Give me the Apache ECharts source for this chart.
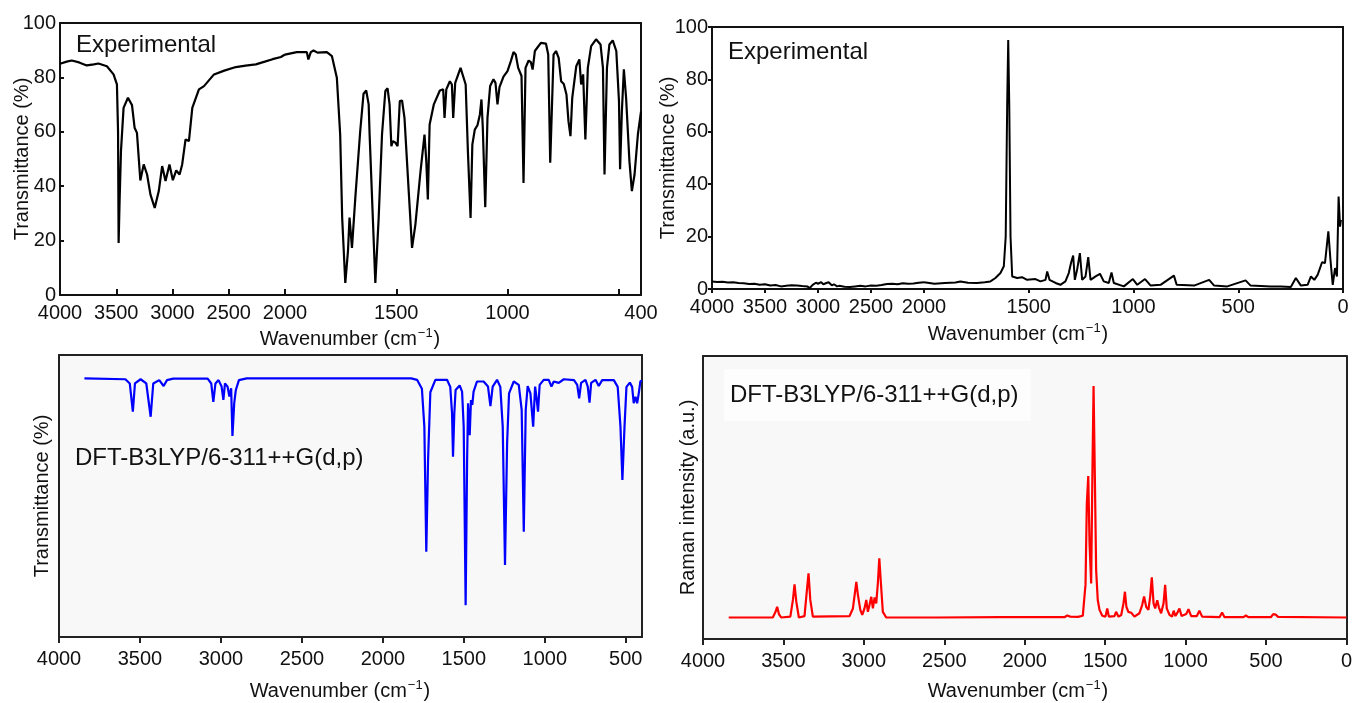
<!DOCTYPE html>
<html>
<head>
<meta charset="utf-8">
<title>IR and Raman spectra</title>
<script src="https://cdn.jsdelivr.net/npm/echarts@6/dist/echarts.min.js"></script>
<style>
  html, body { margin: 0; padding: 0; background: #fff; }
  #chart { width: 1355px; height: 703px; }
</style>
</head>
<body>
<div id="chart"></div>
<script>
// experimental FT-IR, [wavenumber, transmittance %]
const irExp = [
  [4000, 85.0], [3985, 85.4], [3940, 85.8], [3896, 86.2], [3830, 85.5], [3762, 84.4], [3700, 84.8],
  [3658, 85.1], [3583, 84.1], [3524, 81.1], [3494, 77.4], [3484, 60], [3479, 19.1], [3470, 35],
  [3458, 52.9], [3435, 68.8], [3396, 72.5], [3360, 69.8], [3337, 61.5], [3316, 59.6], [3286, 42.1],
  [3256, 48.0], [3226, 44.3], [3196, 36.9], [3158, 32.0], [3122, 38.2], [3092, 47.4], [3062, 41.9],
  [3027, 48.0], [2997, 42.2], [2967, 45.8], [2937, 44.3], [2914, 48.0], [2899, 48.0], [2884, 57.2],
  [2854, 56.6], [2824, 68.8], [2765, 75.6], [2720, 76.8], [2631, 81.1], [2540, 82.5], [2437, 83.8],
  [2350, 84.3], [2259, 84.8], [2180, 85.8], [2110, 86.7], [2036, 87.5], [2000, 88.4],
  [1947, 89.3], [1902, 89.3], [1895, 86.6], [1884, 89.3], [1872, 89.9], [1854, 89.1], [1812, 89.3],
  [1789, 87.8], [1767, 79.9], [1752, 59.0], [1743, 28.3], [1729, 4.4], [1717, 16.1], [1710, 28.5],
  [1699, 17.3], [1684, 35.7], [1662, 60.2], [1647, 74.0], [1635, 75.2], [1624, 70.1], [1620, 59.6],
  [1613, 59.0], [1594, 4.4], [1579, 28.3], [1564, 59.0], [1549, 75.0], [1539, 76.0], [1530, 70.1],
  [1522, 54.7], [1515, 56.6], [1504, 56.0], [1494, 54.7], [1484, 71.3], [1474, 71.5], [1463, 65.1],
  [1444, 38.2], [1429, 17.3], [1414, 25.9], [1391, 45.4], [1373, 59.0], [1365, 49.2], [1358, 35.1],
  [1350, 62.7], [1331, 70.1], [1304, 75.2], [1289, 75.6], [1283, 65.1], [1275, 75.6], [1259, 78.6],
  [1250, 77.4], [1244, 65.1], [1235, 78.0], [1211, 83.5], [1188, 77.4], [1178, 52.9], [1166, 28.3],
  [1158, 55.3], [1147, 60.8], [1135, 62.4], [1124, 66.4], [1117, 71.9], [1111, 61.5], [1100, 32.3],
  [1090, 65.1], [1078, 76.8], [1063, 79.3], [1054, 78.0], [1045, 70.1], [1036, 76.4], [1018, 80.3],
  [1000, 82.3], [985, 86.0], [973, 89.3], [963, 88.4], [952, 83.5], [945, 84.1], [937, 80.5],
  [928, 41.2], [919, 83.5], [905, 86.2], [895, 85.6], [887, 82.9], [877, 89.7], [850, 92.7],
  [827, 92.4], [817, 88.4], [808, 48.6], [800, 48.6], [793, 88.4], [782, 89.7], [770, 87.2],
  [759, 78.6], [747, 77.6], [735, 73.7], [726, 63.9], [717, 58.4], [709, 72.5], [691, 84.1],
  [677, 86.6], [669, 77.4], [660, 81.1], [650, 57.2], [639, 83.5], [624, 91.5], [602, 94.0],
  [582, 92.1], [571, 83.5], [564, 44.3], [553, 83.5], [542, 92.1], [527, 93.6], [511, 89.7],
  [499, 71.3], [494, 46.2], [486, 67.4], [477, 83.0], [467, 72.5], [452, 49.2], [441, 38.2],
  [429, 44.3], [414, 59.0], [400, 67.4]
];

// experimental FT-Raman, [wavenumber, intensity]
const ramanExp = [
  [4000, 2.9], [3950, 2.7], [3900, 2.8], [3850, 2.5], [3800, 2.6], [3750, 2.3], [3700, 2.2],
  [3650, 1.9], [3600, 2.0], [3550, 1.6], [3500, 1.8], [3450, 1.3], [3400, 1.5], [3350, 1.0],
  [3300, 1.2], [3250, 1.4], [3200, 1.3], [3150, 1.1], [3100, 1.0], [3080, 0.3], [3050, 1.6],
  [3020, 2.4], [3000, 2.0], [2970, 2.6], [2950, 1.8], [2920, 2.3], [2900, 2.6], [2870, 1.4],
  [2850, 1.8], [2820, 1.0], [2800, 1.2], [2750, 0.9], [2700, 0.8], [2650, 1.0], [2600, 1.2],
  [2550, 1.0], [2500, 1.3], [2450, 1.2], [2400, 1.5], [2350, 1.9], [2300, 2.0], [2250, 1.8],
  [2200, 2.2], [2150, 2.0], [2100, 2.1], [2050, 2.4], [2000, 2.6],
  [1950, 2.0], [1900, 2.3], [1850, 2.5], [1826, 2.9], [1790, 2.4], [1747, 2.3], [1710, 2.6],
  [1683, 2.9], [1659, 4.2], [1635, 6.1], [1619, 8.7], [1610, 20], [1603, 70], [1598, 95],
  [1593, 70], [1587, 20], [1579, 4.8], [1555, 4.2], [1532, 4.5], [1508, 3.5], [1468, 3.8],
  [1444, 2.9], [1420, 3.5], [1412, 6.7], [1401, 3.5], [1372, 2.3], [1349, 1.6], [1325, 2.9],
  [1309, 6.1], [1298, 10], [1288, 12.8], [1280, 3.5], [1269, 7.4], [1256, 13.7], [1245, 3.5],
  [1229, 4.8], [1216, 12.2], [1205, 3.5], [1181, 4.8], [1160, 5.8], [1142, 2.9], [1118, 2.3],
  [1105, 6.3], [1094, 2.3], [1046, 1.0], [1003, 3.8], [982, 1.6], [945, 3.8], [918, 1.3],
  [871, 1.6], [807, 5.1], [794, 1.6], [711, 1.3], [639, 3.5], [615, 1.3], [552, 1.0],
  [465, 3.3], [441, 1.3], [345, 1.0], [297, 1.0], [249, 0.8], [225, 4.2], [201, 1.3],
  [169, 1.6], [153, 4.8], [137, 3.5], [121, 5.4], [100, 10.2], [86, 9.9], [70, 22.0],
  [60, 11.2], [49, 1.6], [38, 8.0], [29, 4.8], [21, 35.3], [14, 23.8], [10, 26.4]
];

// calculated IR (DFT-B3LYP/6-311++G(d,p)), arbitrary transmittance units
const irCalc = [
  [3843, 91.7], [3590, 91.4], [3563, 89.9], [3544, 79.9], [3531, 89.9], [3496, 91.4], [3461, 89.9],
  [3434, 78.1], [3418, 89.9], [3381, 91.1], [3354, 89.0], [3333, 91.1], [3295, 91.6], [3082, 91.6],
  [3060, 89.9], [3047, 83.4], [3034, 89.9], [3015, 91.1], [2996, 88.8], [2985, 84.1], [2975, 89.9],
  [2959, 88.8], [2948, 85.3], [2937, 88.2], [2929, 71.3], [2918, 82.9], [2908, 87.6], [2889, 91.1],
  [2841, 91.7], [1825, 91.7], [1789, 91.2], [1759, 88.0], [1744, 74.6], [1732, 30.2], [1721, 62.8],
  [1707, 86.8], [1676, 91.2], [1604, 91.2], [1584, 88.7], [1573, 79.3], [1567, 63.9], [1559, 79.3],
  [1551, 87.6], [1526, 89.2], [1511, 87.0], [1501, 74.6], [1489, 11.3], [1480, 62.8], [1474, 82.9],
  [1464, 71.6], [1456, 84.0], [1448, 82.3], [1440, 87.0], [1419, 90.6], [1378, 90.6], [1351, 88.8],
  [1336, 81.9], [1322, 88.8], [1295, 91.2], [1275, 88.7], [1260, 74.6], [1246, 25.5], [1233, 68.6],
  [1221, 86.4], [1192, 90.6], [1161, 89.4], [1143, 80.5], [1130, 37.3], [1118, 80.5], [1106, 89.0],
  [1089, 86.4], [1072, 74.6], [1060, 88.8], [1052, 85.2], [1042, 79.9], [1032, 89.4], [1007, 91.2],
  [976, 91.2], [959, 88.8], [945, 90.6], [914, 90.1], [883, 91.4], [820, 91.1], [800, 89.4],
  [788, 84.6], [776, 90.1], [749, 91.2], [735, 88.8], [724, 83.1], [714, 90.1], [687, 91.2],
  [667, 89.0], [646, 91.1], [574, 91.1], [550, 88.7], [533, 74.6], [521, 55.7], [508, 74.6],
  [496, 88.7], [475, 90.2], [461, 88.7], [451, 82.9], [440, 85.2], [430, 82.9], [420, 86.4],
  [410, 90.6], [400, 91.0]
];

// calculated Raman (DFT-B3LYP/6-311++G(d,p)), arbitrary units
const ramanCalc = [
  [3840, 7.6], [3566, 7.6], [3549, 9.6], [3539, 11.4], [3528, 8.8], [3514, 7.6], [3457, 7.9],
  [3441, 13.8], [3431, 19.3], [3420, 13.2], [3404, 7.6], [3369, 8.1], [3354, 17.3], [3344, 23.2],
  [3333, 13.8], [3317, 7.9], [3089, 8.1], [3068, 10.8], [3056, 16.1], [3047, 20.2], [3037, 15.6],
  [3022, 10.3], [3010, 8.5], [2996, 10.8], [2985, 13.8], [2975, 9.6], [2965, 12.0], [2954, 14.9],
  [2944, 10.8], [2933, 14.7], [2923, 12.6], [2913, 19.7], [2904, 28.5], [2894, 19.7], [2882, 9.6],
  [2861, 7.6], [2550, 7.6], [2157, 7.7], [1753, 7.7], [1736, 8.3], [1728, 8.5], [1717, 7.9],
  [1670, 7.8], [1639, 8.2], [1622, 19.3], [1614, 47.8], [1605, 57.6], [1597, 33.8], [1587, 19.6],
  [1579, 59.7], [1572, 89.4], [1564, 57.3], [1556, 24.3], [1546, 13.8], [1535, 10.3], [1518, 8.2],
  [1498, 7.9], [1487, 10.8], [1477, 7.9], [1442, 8.1], [1432, 9.6], [1417, 7.9], [1400, 8.5],
  [1386, 12.6], [1377, 16.7], [1368, 11.4], [1356, 9.6], [1338, 9.3], [1318, 7.9], [1287, 9.1],
  [1270, 12.0], [1258, 15.0], [1245, 11.4], [1231, 10.3], [1220, 15.0], [1210, 21.8], [1199, 12.6],
  [1189, 10.8], [1176, 13.7], [1166, 11.2], [1152, 9.1], [1137, 12.6], [1127, 19.1], [1117, 10.8],
  [1100, 8.5], [1084, 7.9], [1074, 10.0], [1063, 8.1], [1048, 9.6], [1038, 10.8], [1025, 8.1],
  [996, 8.8], [982, 10.5], [965, 8.1], [930, 8.1], [914, 10.0], [897, 7.9], [789, 7.7],
  [773, 9.4], [758, 7.7], [640, 7.7], [625, 8.3], [610, 7.7], [470, 7.7], [455, 8.8],
  [440, 8.6], [425, 7.8], [0, 7.6]
];

// tick labels
const irExpHighTicks = [4000, 3500, 3000, 2500, 2000];
const irExpLowTicks = [1500, 1000, 500];
const irExpLowLabels = [1500, 1000, 400];
const irCalcTicks = [4000, 3500, 3000, 2500, 2000, 1500, 1000, 500];

const FONT = '"Liberation Sans", Arial, sans-serif';
const INK = '#111';

const inRange = (data, lo, hi) => data.filter(p => p[0] >= lo && p[0] <= hi);

const frameLine = (color) => ({ show: true, onZero: false, lineStyle: { color: color || INK, width: 2 } });

const edgeX = (grid, min, max, color) => ({
  type: 'value', gridIndex: grid, position: 'top', min, max, inverse: true,
  axisLine: frameLine(color), axisTick: { show: false }, axisLabel: { show: false }, splitLine: { show: false },
});

const edgeY = (grid, min, max, color) => ({
  type: 'value', gridIndex: grid, position: 'right', min, max,
  axisLine: frameLine(color), axisTick: { show: false }, axisLabel: { show: false }, splitLine: { show: false },
});

const tickLabel = { color: INK, fontSize: 20, fontFamily: FONT, formatter: v => String(v) };

const yName = (text, gap) => ({
  name: text, nameLocation: 'middle', nameRotate: 90, nameGap: gap, nameMoveOverlap: false,
  nameTextStyle: { color: INK, fontSize: 20, fontFamily: FONT },
});

const wnRich = {
  a: { fontSize: 20, fontFamily: FONT, fill: INK, verticalAlign: 'bottom' },
  s: { fontSize: 13, fontFamily: FONT, fill: INK, verticalAlign: 'bottom', padding: [0, 1, 9, 1] },
};
const wnText = '{a|Wavenumber (cm}{s|−1}{a|)}';

const chart = echarts.init(document.getElementById('chart'));

chart.setOption({
  animation: false,
  backgroundColor: '#fff',
  grid: [
    { left: 60, top: 23, width: 225, height: 272 },
    { left: 285, top: 23, width: 356, height: 272 },
    { left: 712, top: 27, width: 212, height: 262 },
    { left: 924, top: 27, width: 419, height: 262 },
    { left: 59, top: 355, width: 583, height: 282, show: true, backgroundColor: '#f8f8f8', borderWidth: 0 },
    { left: 703, top: 356, width: 644, height: 283, show: true, backgroundColor: '#f8f8f8', borderWidth: 0 },
  ],
  xAxis: [
    { type: 'value', gridIndex: 0, min: 2000, max: 4000, inverse: true,
      axisLine: frameLine(), splitLine: { show: false },
      axisTick: { inside: true, length: 6, customValues: irExpHighTicks, lineStyle: { color: INK, width: 2 } },
      axisLabel: { ...tickLabel, margin: 8, customValues: irExpHighTicks } },
    edgeX(0, 2000, 4000),
    { type: 'value', gridIndex: 1, min: 400, max: 2000, inverse: true,
      axisLine: frameLine(), splitLine: { show: false },
      axisTick: { inside: true, length: 6, customValues: irExpLowTicks, lineStyle: { color: INK, width: 2 } },
      axisLabel: { ...tickLabel, margin: 8, customValues: irExpLowLabels } },
    edgeX(1, 400, 2000),

    { type: 'value', gridIndex: 2, min: 2000, max: 4000, inverse: true, interval: 500,
      axisLine: frameLine(), splitLine: { show: false },
      axisTick: { length: 4, lineStyle: { color: INK, width: 2 } },
      axisLabel: { ...tickLabel, margin: 8 } },
    edgeX(2, 2000, 4000),
    { type: 'value', gridIndex: 3, min: 0, max: 2000, inverse: true, interval: 500,
      axisLine: frameLine(), splitLine: { show: false },
      axisTick: { length: 4, lineStyle: { color: INK, width: 2 } },
      axisLabel: { ...tickLabel, margin: 8, showMaxLabel: false } },
    edgeX(3, 0, 2000),

    { type: 'value', gridIndex: 4, min: 400, max: 4000, inverse: true,
      axisLine: frameLine('#222'), splitLine: { show: false },
      axisTick: { length: 6, customValues: irCalcTicks, lineStyle: { color: '#222', width: 2 } },
      axisLabel: { ...tickLabel, margin: 12, customValues: irCalcTicks } },
    edgeX(4, 400, 4000, '#222'),

    { type: 'value', gridIndex: 5, min: 0, max: 4000, inverse: true, interval: 500,
      axisLine: frameLine('#222'), splitLine: { show: false },
      axisTick: { length: 6, lineStyle: { color: '#222', width: 2 } },
      axisLabel: { ...tickLabel, margin: 12 } },
    edgeX(5, 0, 4000, '#222'),
  ],
  yAxis: [
    { type: 'value', gridIndex: 0, min: 0, max: 100, interval: 20, ...yName('Transmittance (%)', 28),
      axisLine: frameLine(), splitLine: { show: false },
      axisTick: { inside: true, length: 4, lineStyle: { color: INK, width: 2 } },
      axisLabel: { ...tickLabel, margin: 4 } },
    edgeY(1, 0, 100),

    { type: 'value', gridIndex: 2, min: 0, max: 100, interval: 20, ...yName('Transmittance (%)', 34),
      axisLine: frameLine(), splitLine: { show: false },
      axisTick: { length: 4, lineStyle: { color: INK, width: 2 } },
      axisLabel: { ...tickLabel, margin: 4 } },
    edgeY(3, 0, 100),

    { type: 'value', gridIndex: 4, min: 0, max: 100, ...yName('Transmittance (%)', 7),
      axisLine: frameLine('#222'), splitLine: { show: false },
      axisTick: { show: false }, axisLabel: { show: false } },
    edgeY(4, 0, 100, '#222'),

    { type: 'value', gridIndex: 5, min: 0, max: 100, ...yName('Raman intensity (a.u.)', 5),
      axisLine: frameLine('#222'), splitLine: { show: false },
      axisTick: { show: false }, axisLabel: { show: false } },
    edgeY(5, 0, 100, '#222'),
  ],
  series: [
    { type: 'line', xAxisIndex: 0, yAxisIndex: 0, data: inRange(irExp, 2000, 4000),
      showSymbol: false, lineStyle: { color: '#000', width: 2.2 } },
    { type: 'line', xAxisIndex: 2, yAxisIndex: 1, data: inRange(irExp, 400, 2000),
      showSymbol: false, lineStyle: { color: '#000', width: 2.2 } },
    { type: 'line', xAxisIndex: 4, yAxisIndex: 2, data: inRange(ramanExp, 2000, 4000),
      showSymbol: false, lineStyle: { color: '#000', width: 2 } },
    { type: 'line', xAxisIndex: 6, yAxisIndex: 3, data: inRange(ramanExp, 0, 2000),
      showSymbol: false, lineStyle: { color: '#000', width: 2 } },
    { type: 'line', xAxisIndex: 8, yAxisIndex: 4, data: irCalc,
      showSymbol: false, lineStyle: { color: '#0000ff', width: 2.2 } },
    { type: 'line', xAxisIndex: 10, yAxisIndex: 6, data: ramanCalc,
      showSymbol: false, lineStyle: { color: '#ff0000', width: 2.2 } },
  ],
  graphic: [
    { type: 'text', x: 350, y: 338, style: { text: wnText, rich: wnRich, align: 'center', verticalAlign: 'middle' } },
    { type: 'text', x: 1018, y: 333, style: { text: wnText, rich: wnRich, align: 'center', verticalAlign: 'middle' } },
    { type: 'text', x: 340, y: 690, style: { text: wnText, rich: wnRich, align: 'center', verticalAlign: 'middle' } },
    { type: 'text', x: 1018, y: 690, style: { text: wnText, rich: wnRich, align: 'center', verticalAlign: 'middle' } },
    { type: 'text', x: 76, y: 45, style: { text: 'Experimental', fontSize: 24, fontFamily: FONT, fill: INK, verticalAlign: 'middle' } },
    { type: 'text', x: 728, y: 52, style: { text: 'Experimental', fontSize: 24, fontFamily: FONT, fill: INK, verticalAlign: 'middle' } },
    { type: 'text', x: 75, y: 458, style: { text: 'DFT-B3LYP/6-311++G(d,p)', fontSize: 24, fontFamily: FONT, fill: INK, verticalAlign: 'middle' } },
    { type: 'text', x: 724, y: 395, z: 10, style: { text: 'DFT-B3LYP/6-311++G(d,p)', fontSize: 24, fontFamily: FONT, fill: INK,
      verticalAlign: 'middle', backgroundColor: '#fdfdfd', padding: [14, 12, 14, 6] } },
  ],
});
</script>
</body>
</html>
